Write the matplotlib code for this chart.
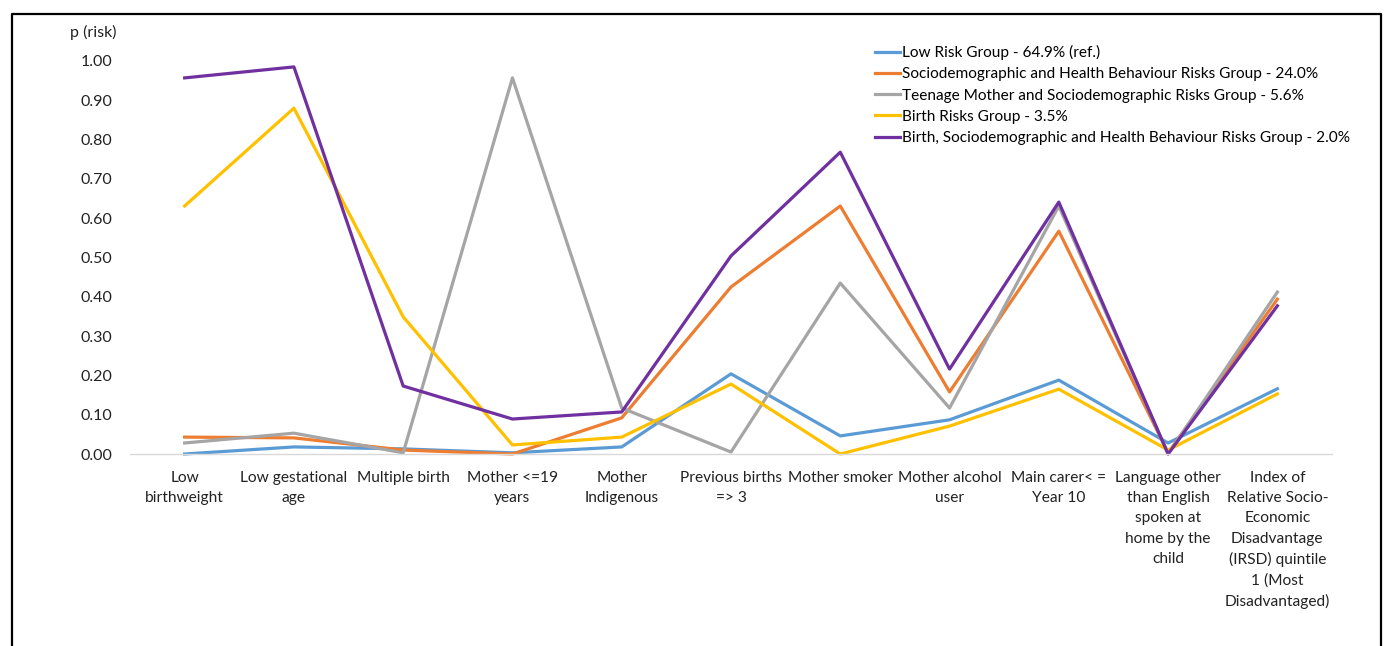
import matplotlib
matplotlib.use("Agg")
import matplotlib.pyplot as plt
from matplotlib.lines import Line2D

plt.rcParams['font.family'] = ['Lato', 'DejaVu Sans']

# categories along the x axis
categories = [
    "Low\nbirthweight",
    "Low gestational\nage",
    "Multiple birth",
    "Mother <=19\nyears",
    "Mother\nIndigenous",
    "Previous births\n=> 3",
    "Mother smoker",
    "Mother alcohol\nuser",
    "Main carer< =\nYear 10",
    "Language other\nthan English\nspoken at\nhome by the\nchild",
    "Index of\nRelative Socio-\nEconomic\nDisadvantage\n(IRSD) quintile\n1 (Most\nDisadvantaged)",
]

# p(risk) for each class
low_risk = [0.000, 0.018, 0.013, 0.003, 0.018, 0.204, 0.046, 0.087, 0.188, 0.028, 0.166]
socio_health = [0.043, 0.041, 0.010, 0.000, 0.092, 0.425, 0.631, 0.158, 0.567, 0.003, 0.394]
teen_mother = [0.028, 0.053, 0.003, 0.957, 0.117, 0.005, 0.435, 0.117, 0.631, 0.000, 0.412]
birth_risk = [0.631, 0.880, 0.349, 0.023, 0.043, 0.178, 0.000, 0.071, 0.165, 0.010, 0.153]
birth_socio = [0.957, 0.985, 0.173, 0.089, 0.107, 0.504, 0.768, 0.216, 0.641, 0.000, 0.377]

series = [
    ("Low Risk Group - 64.9% (ref.)", low_risk, "#5B9BD5"),
    ("Sociodemographic and Health Behaviour Risks Group - 24.0%", socio_health, "#ED7D31"),
    ("Teenage Mother and Sociodemographic Risks Group - 5.6%", teen_mother, "#A5A5A5"),
    ("Birth Risks Group - 3.5%", birth_risk, "#FFC000"),
    ("Birth, Sociodemographic and Health Behaviour Risks Group - 2.0%", birth_socio, "#7030A0"),
]

W, H = 1385, 646
fig = plt.figure(figsize=(W / 100, H / 100), dpi=100)

# black frame round the chart (left, top, right only - bottom is cut off)
fx0, fx1, fy = 12 / W, 1381 / W, 1 - 14 / H
fig.add_artist(Line2D([fx0, fx0, fx1, fx1], [0, fy, fy, 0], color="black",
                      lw=1.6, transform=fig.transFigure))

ax = fig.add_axes([130 / W, 1 - 454 / H, (1332 - 130) / W, (454 - 61) / H])

x = list(range(len(categories)))
for name, vals, col in series:
    ax.plot(x, vals, color=col, lw=2.3, label=name, clip_on=False)

ax.set_xlim(-0.5, len(categories) - 0.5)
ax.set_ylim(0, 1.0)
ax.set_yticks([i / 10 for i in range(11)])
ax.set_yticklabels([f"{i / 10:.2f}" for i in range(11)], fontsize=11.5, color="#222222")
ax.set_xticks(x)
ax.set_xticklabels(categories, fontsize=11.2, color="#222222", linespacing=1.55, va="top")
ax.tick_params(axis="both", length=0)
ax.tick_params(axis="y", pad=13)
ax.tick_params(axis="x", pad=12.5)

for s in ["top", "right", "left"]:
    ax.spines[s].set_visible(False)
ax.spines["bottom"].set_color("#D9D9D9")
ax.spines["bottom"].set_linewidth(1.0)

fig.text(70 / W, 1 - 32 / H, "p (risk)", fontsize=11.5, color="#222222", va="center", ha="left")

ax.legend(loc="upper left", bbox_to_anchor=(875 / W, 1 - 45 / H), bbox_transform=fig.transFigure,
          frameon=False, fontsize=11.1, handlelength=1.65, handletextpad=0.1,
          labelspacing=0.47, borderpad=0, borderaxespad=0)

plt.savefig("out.png", dpi=100)
plt.close()
